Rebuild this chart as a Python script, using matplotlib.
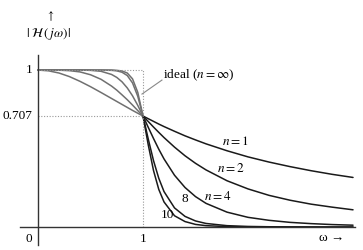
import numpy as np
import matplotlib
matplotlib.use('Agg')
import matplotlib.pyplot as plt

plt.rcParams['font.family'] = ['Liberation Serif', 'DejaVu Serif']
plt.rcParams['mathtext.fontset'] = 'stix'

# frequency samples (omega / omega_c)
w = [0, 0.1, 0.2, 0.3, 0.4, 0.5, 0.6, 0.7, 0.75, 0.8, 0.85, 0.9, 0.95, 1.0,
     1.05, 1.1, 1.15, 1.2, 1.3, 1.4, 1.5, 1.6, 1.8, 2.0, 2.2, 2.4, 2.6, 2.8, 3.0]

# |H(jw)|
h1 = [1.0, 0.995, 0.981, 0.958, 0.928, 0.894, 0.857, 0.819, 0.800, 0.781, 0.762, 0.743, 0.725, 0.707,
      0.690, 0.673, 0.656, 0.640, 0.610, 0.581, 0.555, 0.530, 0.486, 0.447, 0.414, 0.385, 0.359, 0.336, 0.316]
h2 = [1.0, 1.0, 0.999, 0.996, 0.988, 0.970, 0.941, 0.898, 0.872, 0.842, 0.811, 0.777, 0.742, 0.707,
      0.672, 0.637, 0.603, 0.570, 0.509, 0.454, 0.406, 0.364, 0.295, 0.243, 0.202, 0.171, 0.146, 0.127, 0.110]
h4 = [1.0, 1.0, 1.0, 1.0, 1.0, 0.998, 0.992, 0.972, 0.953, 0.925, 0.886, 0.836, 0.775, 0.707,
      0.635, 0.564, 0.496, 0.434, 0.330, 0.252, 0.194, 0.151, 0.095, 0.062, 0.043, 0.030, 0.022, 0.016, 0.012]
h8 = [1.0, 1.0, 1.0, 1.0, 1.0, 1.0, 1.0, 0.998, 0.995, 0.986, 0.965, 0.918, 0.833, 0.707,
      0.560, 0.423, 0.311, 0.226, 0.122, 0.068, 0.039, 0.023, 0.009, 0.004, 0.002, 0.001, 0.0005, 0.0003, 0.0002]
h10 = [1.0, 1.0, 1.0, 1.0, 1.0, 1.0, 1.0, 1.0, 0.998, 0.994, 0.981, 0.944, 0.858, 0.707,
       0.523, 0.360, 0.240, 0.160, 0.072, 0.035, 0.017, 0.009, 0.003, 0.001, 0.0004, 0.0002, 0.0001, 0.0, 0.0]

curves = {'1': h1, '2': h2, '4': h4, '8': h8, '10': h10}

ideal_w = [0, 1, 1]
ideal_h = [1, 1, 0]

fig = plt.figure(figsize=(3.63, 2.5), dpi=100)
ax = fig.add_axes([0, 0, 1, 1])
ax.set_xlim(-0.362, 3.095)
ax.set_ylim(-0.146, 1.446)
ax.axis('off')

w_arr = np.array(w)
lo = w_arr <= 1.0
hi = w_arr >= 1.0
for n, h in curves.items():
    h = np.array(h)
    ax.plot(w_arr[lo], h[lo], color='#707070', lw=1.1, solid_capstyle='round')
    ax.plot(w_arr[hi], h[hi], color='#1a1a1a', lw=1.1, solid_capstyle='round')

# ideal response + 0.707 guide
ax.plot(ideal_w, ideal_h, ls=(0, (1, 1.5)), color='#999999', lw=0.8)
ax.plot([0, 1], [0.707, 0.707], ls=(0, (1, 1.5)), color='#999999', lw=0.8)

# axes
ax.plot([-0.171, 3.019], [0, 0], color='#333333', lw=1.0)
ax.plot([0, 0], [-0.115, 1.096], color='#333333', lw=1.0)

fs = 9.5
ax.text(-0.086, -0.076, '0', fontsize=fs, ha='center', va='center')
ax.text(1.0, -0.076, '1', fontsize=fs, ha='center', va='center')
ax.text(-0.05, 1.0, '1', fontsize=fs, ha='right', va='center')
ax.text(-0.05, 0.707, '0.707', fontsize=fs, ha='right', va='center')
ax.text(2.80, -0.07, 'ω →', fontsize=fs, ha='center', va='center')

ax.text(0.115, 1.34, r'$\uparrow$', fontsize=fs - 1, ha='center', va='center')
ax.text(0.095, 1.23, r'$|\;\mathcal{H}\,(\,j\omega)|$', fontsize=fs, ha='center', va='center')

# ideal label with leader line
ax.plot([0.99, 1.18], [0.847, 0.936], color='#888888', lw=0.8)
ax.text(1.19, 0.968, r'ideal ($n = \infty$)', fontsize=fs, ha='left', va='center')

ax.text(1.876, 0.548, r'$n = 1$', fontsize=fs, ha='center', va='center')
ax.text(1.838, 0.376, r'$n = 2$', fontsize=fs, ha='center', va='center')
ax.text(1.714, 0.197, r'$n = 4$', fontsize=fs, ha='center', va='center')
ax.text(1.40, 0.178, '8', fontsize=fs, ha='center', va='center')
ax.text(1.229, 0.076, '10', fontsize=fs, ha='center', va='center')

fig.savefig('out.png', dpi=100, facecolor='white')
